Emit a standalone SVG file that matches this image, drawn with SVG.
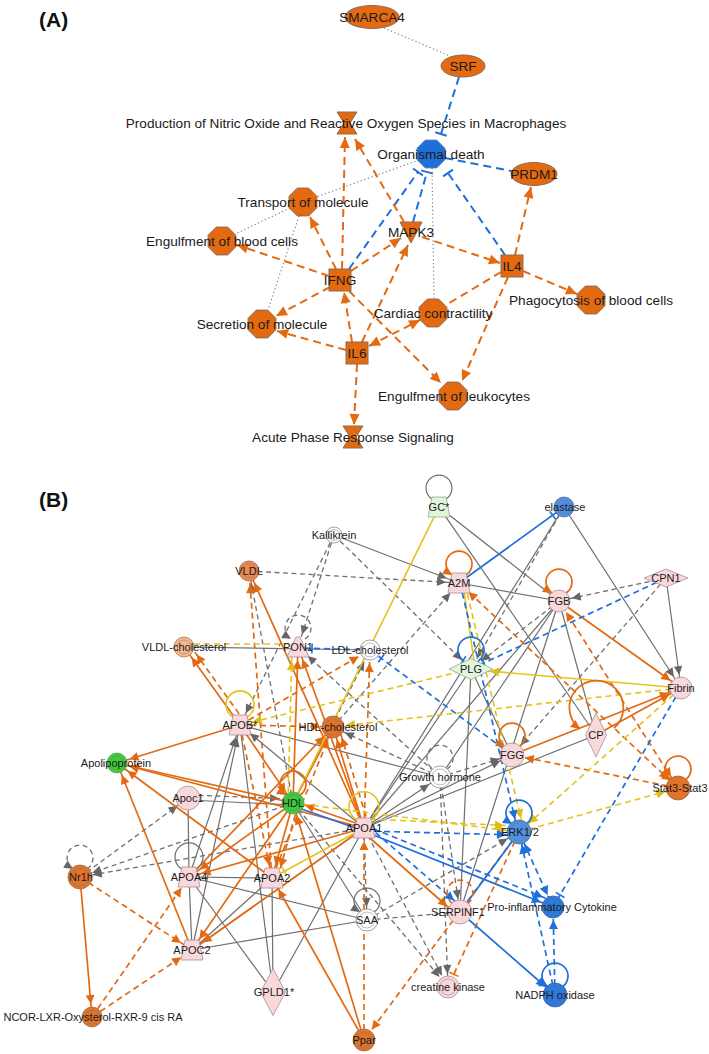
<svg xmlns="http://www.w3.org/2000/svg" width="709" height="1054" viewBox="0 0 709 1054">
<style>
.ta{font-family:"Liberation Sans",Arial,sans-serif;font-size:13.6px;fill:#1b1b1b;text-anchor:middle}
.tb{font-family:"Liberation Sans",Arial,sans-serif;font-size:11px;fill:#1b1b1b;text-anchor:middle}
.hd{font-family:"Liberation Sans",Arial,sans-serif;font-size:21px;font-weight:bold;fill:#111}
.Aod{stroke:#E36A12;stroke-width:2;stroke-dasharray:8 5;fill:none}
.Abd{stroke:#1F6FDB;stroke-width:2;stroke-dasharray:8 5;fill:none}
.Adot{stroke:#777;stroke-width:1.1;stroke-dasharray:1.2 2.6;fill:none}
.gs{stroke:#6f6f6f;stroke-width:1.2;fill:none}
.gd{stroke:#6f6f6f;stroke-width:1.3;stroke-dasharray:5 3.5;fill:none}
.os{stroke:#E36A12;stroke-width:1.7;fill:none}
.od{stroke:#E36A12;stroke-width:1.7;stroke-dasharray:6 4;fill:none}
.ys{stroke:#E5C21C;stroke-width:1.6;fill:none}
.yd{stroke:#E5C21C;stroke-width:1.6;stroke-dasharray:6 4;fill:none}
.bs{stroke:#1F6FDB;stroke-width:1.7;fill:none}
.bd{stroke:#1F6FDB;stroke-width:1.7;stroke-dasharray:6 4;fill:none}
.fo{fill:#E36A10;stroke:#8a6a55;stroke-width:1}
.fb{fill:#1F6FDB;stroke:#5d7fa8;stroke-width:1}
.pk{fill:#F9D8DB;stroke:#A98E90;stroke-width:.8}
.gr{fill:#E3F4DC;stroke:#8FAE88;stroke-width:.8}
.gb{fill:#3ECC3A;stroke:#5f9a5b;stroke-width:.8}
.or{fill:#E1742A;stroke:#9a6a4a;stroke-width:.8}
.vl{fill:#EC8B4F;stroke:#9a6a4a;stroke-width:.8}
.pe{fill:#F4B88C;stroke:#a07a5a;stroke-width:.8}
.bl{fill:#5090E2;stroke:#4a6f9c;stroke-width:.8}
.bk{fill:#2F78D8;stroke:#3d6598;stroke-width:.8}
.wh{fill:#fff;stroke:#888;stroke-width:.8}
.in{fill:none;stroke:#777;stroke-width:.6;opacity:.8}
</style>
<defs>
<polygon id="oct" points="-5.7,-13.9 5.7,-13.9 13.9,-5.7 13.9,5.7 5.7,13.9 -5.7,13.9 -13.9,5.7 -13.9,-5.7"/>
<polygon id="trap" points="-7,-10 7,-10 11,10 -11,10"/>
<marker id="Ao" viewBox="-12 -7 14 14" refX="0" refY="0" markerWidth="14" markerHeight="14" markerUnits="userSpaceOnUse" orient="auto-start-reverse"><path d="M0,0 L-11,-5 L-11,5 Z" fill="#E36A12"/></marker>
<marker id="Tb" viewBox="-3 -8 6 16" refX="0" refY="0" markerWidth="6" markerHeight="16" markerUnits="userSpaceOnUse" orient="auto"><path d="M0,-6 L0,6" stroke="#1F6FDB" stroke-width="2"/></marker>
<marker id="ag" viewBox="-26 -7 28 14" refX="0" refY="0" markerWidth="28" markerHeight="14" markerUnits="userSpaceOnUse" orient="auto-start-reverse"><path d="M-13,0 L-22,-4.2 L-22,4.2 Z" fill="#666"/></marker>
<marker id="ao" viewBox="-26 -7 28 14" refX="0" refY="0" markerWidth="28" markerHeight="14" markerUnits="userSpaceOnUse" orient="auto-start-reverse"><path d="M-13,0 L-22,-4.5 L-22,4.5 Z" fill="#E36A12"/></marker>
<marker id="ab" viewBox="-26 -7 28 14" refX="0" refY="0" markerWidth="28" markerHeight="14" markerUnits="userSpaceOnUse" orient="auto-start-reverse"><path d="M-13,0 L-22,-4.5 L-22,4.5 Z" fill="#1F6FDB"/></marker>
<marker id="ay" viewBox="-26 -7 28 14" refX="0" refY="0" markerWidth="28" markerHeight="14" markerUnits="userSpaceOnUse" orient="auto-start-reverse"><path d="M-13,0 L-22,-4.5 L-22,4.5 Z" fill="#E0BC18"/></marker>
<marker id="tb" viewBox="-26 -7 28 14" refX="0" refY="0" markerWidth="28" markerHeight="14" markerUnits="userSpaceOnUse" orient="auto"><path d="M-14,-5 L-14,5" stroke="#1F6FDB" stroke-width="1.6"/></marker>
<marker id="to" viewBox="-26 -7 28 14" refX="0" refY="0" markerWidth="28" markerHeight="14" markerUnits="userSpaceOnUse" orient="auto"><path d="M-14,-5 L-14,5" stroke="#E36A12" stroke-width="1.6"/></marker>
<marker id="ty" viewBox="-26 -7 28 14" refX="0" refY="0" markerWidth="28" markerHeight="14" markerUnits="userSpaceOnUse" orient="auto"><path d="M-14,-5 L-14,5" stroke="#E5C21C" stroke-width="1.6"/></marker>
<marker id="lo" viewBox="-11 -7 13 14" refX="0" refY="0" markerWidth="13" markerHeight="14" markerUnits="userSpaceOnUse" orient="auto"><path d="M0,0 L-9,-4.5 L-9,4.5 Z" fill="#E36A12"/></marker>
<marker id="lg" viewBox="-11 -7 13 14" refX="0" refY="0" markerWidth="13" markerHeight="14" markerUnits="userSpaceOnUse" orient="auto"><path d="M0,0 L-9,-4.2 L-9,4.2 Z" fill="#666"/></marker>
<marker id="lb" viewBox="-11 -7 13 14" refX="0" refY="0" markerWidth="13" markerHeight="14" markerUnits="userSpaceOnUse" orient="auto"><path d="M0,0 L-9,-4.5 L-9,4.5 Z" fill="#1F6FDB"/></marker>
<marker id="lbt" viewBox="-4 -7 8 14" refX="0" refY="0" markerWidth="8" markerHeight="14" markerUnits="userSpaceOnUse" orient="auto"><path d="M-1,-5 L-1,5" stroke="#1F6FDB" stroke-width="1.6"/></marker>
</defs>
<rect width="709" height="1054" fill="#fff"/>
<text class="hd" x="39" y="26.5">(A)</text>
<text class="hd" x="39" y="507">(B)</text>

<g id="connectors-a">
<path class="Adot" d="M384,28 L450,56"/>
<path class="Abd" d="M459,77 L441,134" marker-end="url(#Tb)"/>
<path class="Abd" d="M349,269 L418,172" marker-end="url(#Tb)"/>
<path class="Abd" d="M413,222 L427,172" marker-end="url(#Tb)"/>
<path class="Abd" d="M505,255 L448,173" marker-end="url(#Tb)"/>
<path class="Abd" d="M445,158 L511,171"/>
<path class="Adot" d="M419,160 L316,197"/>
<path class="Adot" d="M290,208 L235,234"/>
<path class="Adot" d="M299,216 L268,310"/>
<path class="Adot" d="M432,168 L434,299"/>
<path class="Aod" d="M342,269 L345,137" marker-end="url(#Ao)"/>
<path class="Aod" d="M404,222 L355,139" marker-end="url(#Ao)"/>
<path class="Aod" d="M336,269 L310,217" marker-end="url(#Ao)"/>
<path class="Aod" d="M329,276 L237,245" marker-end="url(#Ao)"/>
<path class="Aod" d="M351,271 L401,238" marker-end="url(#Ao)"/>
<path class="Aod" d="M330,287 L276,316" marker-end="url(#Ao)"/>
<path class="Aod" d="M352,342 L344,292" marker-end="url(#Ao)"/>
<path class="Aod" d="M362,342 L408,245" marker-end="url(#Ao)"/>
<path class="Aod" d="M346,350 L277,331" marker-end="url(#Ao)"/>
<path class="Aod" d="M369,346 L420,320" marker-start="url(#Ao)" marker-end="url(#Ao)"/>
<path class="Aod" d="M357,364 L354,425" marker-end="url(#Ao)"/>
<path class="Aod" d="M349,291 L441,383" marker-end="url(#Ao)"/>
<path class="Aod" d="M508,277 L462,381" marker-end="url(#Ao)"/>
<path class="Aod" d="M422,237 L500,263" marker-end="url(#Ao)"/>
<path class="Aod" d="M515,255 L531,187" marker-end="url(#Ao)"/>
<path class="Aod" d="M523,271 L577,294" marker-end="url(#Ao)"/>
<path class="Aod" d="M501,272 L446,305"/>
</g>

<g id="a-smarca4"><ellipse class="fo" cx="372" cy="17" rx="27" ry="11.5"/><text class="ta" x="372" y="21.8">SMARCA4</text></g>
<g id="a-srf"><ellipse class="fo" cx="463" cy="66" rx="22" ry="11"/><text class="ta" x="463" y="70.8">SRF</text></g>
<g id="a-production"><polygon class="fo" points="337,112 357,112 350,123 357,134 337,134 344,123"/><text class="ta" x="346" y="127.8">Production of Nitric Oxide and Reactive Oxygen Species in Macrophages</text></g>
<g id="a-organismal-death"><use href="#oct" x="431" y="154" class="fb"/><text class="ta" x="431" y="158.8">Organismal death</text></g>
<g id="a-prdm1"><ellipse class="fo" cx="534" cy="174" rx="23" ry="11.5"/><text class="ta" x="534" y="178.8">PRDM1</text></g>
<g id="a-transport"><use href="#oct" x="303" y="202" class="fo"/><text class="ta" x="303" y="206.8">Transport of molecule</text></g>
<g id="a-engulf-blood"><use href="#oct" x="222" y="241" class="fo"/><text class="ta" x="222" y="245.8">Engulfment of blood cells</text></g>
<g id="a-mapk3"><polygon class="fo" points="400,222 422,222 411,243"/><text class="ta" x="411" y="236.8">MAPK3</text></g>
<g id="a-ifng"><rect class="fo" x="329" y="269" width="22" height="22"/><text class="ta" x="340" y="284.8">IFNG</text></g>
<g id="a-il4"><rect class="fo" x="501" y="255" width="22" height="22"/><text class="ta" x="512" y="270.8">IL4</text></g>
<g id="a-phagocytosis"><use href="#oct" x="591" y="300" class="fo"/><text class="ta" x="591" y="304.8">Phagocytosis of blood cells</text></g>
<g id="a-cardiac"><use href="#oct" x="433" y="313" class="fo"/><text class="ta" x="433" y="317.8">Cardiac contractility</text></g>
<g id="a-secretion"><use href="#oct" x="262" y="324" class="fo"/><text class="ta" x="262" y="328.8">Secretion of molecule</text></g>
<g id="a-il6"><rect class="fo" x="346" y="342" width="22" height="22"/><text class="ta" x="357" y="357.8">IL6</text></g>
<g id="a-engulf-leuko"><use href="#oct" x="453" y="396" class="fo"/><text class="ta" x="454" y="400.8">Engulfment of leukocytes</text></g>
<g id="a-acute"><polygon class="fo" points="343,426 363,426 356,437 363,448 343,448 350,437"/><text class="ta" x="353" y="441.8">Acute Phase Response Signaling</text></g>

<g id="connectors-b">
<path class="gs" d="M334,535 L459,583" marker-end="url(#ag)"/>
<path class="gs" d="M439,507 L559,601"/>
<path class="gs" d="M439,507 L596,735"/>
<path class="gs" d="M564,507 L681,688" marker-end="url(#ag)"/>
<path class="gs" d="M459,583 L559,601"/>
<path class="gs" d="M666,578 L681,688" marker-end="url(#ag)"/>
<path class="gs" d="M559,601 L460,912"/>
<path class="gs" d="M559,601 L440,777"/>
<path class="gs" d="M559,601 L596,735"/>
<path class="gs" d="M184,647 L370,650"/>
<path class="gs" d="M596,735 L364,828"/>
<path class="gs" d="M364,828 L440,777" marker-end="url(#ag)"/>
<path class="gs" d="M364,828 L564,507"/>
<path class="gs" d="M364,828 L559,601"/>
<path class="gs" d="M364,828 L512,755" marker-end="url(#ag)"/>
<path class="gs" d="M471,669 L460,912"/>
<path class="gs" d="M471,669 L512,755"/>
<path class="gs" d="M471,669 L364,828"/>
<path class="gs" d="M367,920 L192,950"/>
<path class="gs" d="M189,877 L367,920"/>
<path class="gs" d="M293,803 L367,920"/>
<path class="gs" d="M188,798 L189,877"/>
<path class="gs" d="M189,877 L192,950"/>
<path class="gs" d="M189,877 L272,878"/>
<path class="gs" d="M189,877 L273,992"/>
<path class="gs" d="M272,878 L273,992"/>
<path class="gs" d="M272,878 L192,950"/>
<path class="gs" d="M192,950 L364,828"/>
<path class="gs" d="M273,992 L364,828"/>
<path class="gs" d="M192,950 L240,725" marker-end="url(#ag)"/>
<path class="gs" d="M189,877 L240,725" marker-end="url(#ag)"/>
<path class="gs" d="M240,725 L273,992"/>
<path class="gs" d="M364,828 L240,725" marker-end="url(#ag)"/>
<path class="gs" d="M240,725 L440,777"/>
<path class="gs" d="M188,800 L293,805"/>
<path class="gd" d="M334,535 L298,647" marker-end="url(#ag)"/>
<path class="gd" d="M334,535 L240,725" marker-end="url(#ag)"/>
<path class="gd" d="M334,535 L471,669" marker-end="url(#ag)"/>
<path class="gd" d="M249,571 L459,583" marker-end="url(#ag)"/>
<path class="gd" d="M333,727 L459,583" marker-end="url(#ag)"/>
<path class="gd" d="M564,507 L471,669" marker-end="url(#ag)"/>
<path class="gd" d="M666,578 L559,601" marker-end="url(#ag)"/>
<path class="gd" d="M666,578 L512,755" marker-end="url(#ag)"/>
<path class="gd" d="M559,601 L471,669" marker-end="url(#ag)"/>
<path class="gd" d="M440,777 L298,647" marker-end="url(#ag)"/>
<path class="gd" d="M440,777 L333,727" marker-end="url(#ag)"/>
<path class="gd" d="M293,803 L249,571" marker-end="url(#ag)"/>
<path class="gd" d="M440,777 L512,755" marker-end="url(#ag)"/>
<path class="gd" d="M364,828 L367,920" marker-end="url(#ag)"/>
<path class="gd" d="M367,920 L519,832" marker-end="url(#ag)"/>
<path class="gd" d="M367,920 L460,912"/>
<path class="gd" d="M364,828 L448,987" marker-end="url(#ag)"/>
<path class="gd" d="M440,777 L448,987" marker-end="url(#ag)"/>
<path class="gd" d="M293,803 L448,987" marker-end="url(#ag)"/>
<path class="gd" d="M440,777 L460,912" marker-end="url(#ag)"/>
<path class="gd" d="M190,795 L292,799" marker-end="url(#ag)"/>
<path class="gd" d="M80,877 L188,798" marker-end="url(#ag)"/>
<path class="gd" d="M293,803 L80,877" marker-end="url(#ag)"/>
<path class="gd" d="M364,828 L80,877" marker-end="url(#ag)"/>
<path class="gd" d="M293,803 L370,650" marker-end="url(#ag)"/>
<path class="os" d="M559,601 L681,688" marker-end="url(#ao)"/>
<path class="os" d="M596,735 L681,688" marker-end="url(#ao)"/>
<path class="os" d="M512,755 L681,688" marker-end="url(#ao)"/>
<path class="os" d="M240,725 L184,647" marker-end="url(#ao)"/>
<path class="os" d="M240,725 L117,763" marker-end="url(#ao)"/>
<path class="os" d="M293,803 L298,647" marker-end="url(#ao)"/>
<path class="os" d="M364,828 L298,647" marker-end="url(#ao)"/>
<path class="os" d="M293,803 L333,727" marker-end="url(#ao)"/>
<path class="os" d="M364,828 L333,727" marker-end="url(#ao)"/>
<path class="os" d="M189,877 L333,727" marker-end="url(#ao)"/>
<path class="os" d="M364,828 L249,571" marker-end="url(#ao)"/>
<path class="os" d="M364,826 L293,801" marker-end="url(#ao)"/>
<path class="os" d="M362,831 L457,915" marker-end="url(#ao)"/>
<path class="os" d="M364,1040 L272,878" marker-end="url(#ao)"/>
<path class="os" d="M364,1040 L293,803" marker-end="url(#ao)"/>
<path class="os" d="M293,803 L117,763" marker-end="url(#ao)"/>
<path class="os" d="M192,950 L117,763" marker-end="url(#ao)"/>
<path class="os" d="M272,878 L117,763" marker-end="url(#ao)"/>
<path class="os" d="M364,828 L117,763" marker-end="url(#ao)"/>
<path class="os" d="M293,803 L189,877" marker-end="url(#ao)"/>
<path class="os" d="M293,803 L192,950" marker-end="url(#ao)"/>
<path class="os" d="M293,803 L272,878" marker-end="url(#ao)"/>
<path class="os" d="M364,828 L189,877" marker-end="url(#ao)"/>
<path class="os" d="M364,828 L192,950" marker-end="url(#ao)"/>
<path class="os" d="M80,877 L92,1017" marker-end="url(#ao)"/>
<path class="os" d="M240,725 L293,803" marker-end="url(#ao)"/>
<path class="od" d="M678,788 L459,583" marker-start="url(#ao)" marker-end="url(#ao)"/>
<path class="od" d="M678,788 L559,601" marker-start="url(#ao)" marker-end="url(#ao)"/>
<path class="od" d="M245,722 L189,644" marker-end="url(#ao)"/>
<path class="od" d="M240,725 L370,650" marker-end="url(#ao)"/>
<path class="od" d="M240,725 L333,727" marker-end="url(#ao)"/>
<path class="od" d="M369,826 L338,725" marker-end="url(#ao)"/>
<path class="od" d="M272,878 L333,727" marker-end="url(#ao)"/>
<path class="od" d="M364,828 L370,650" marker-end="url(#ao)"/>
<path class="od" d="M272,878 L249,571" marker-end="url(#ao)"/>
<path class="od" d="M678,788 L512,755" marker-end="url(#ao)"/>
<path class="od" d="M519,832 L364,1040" marker-end="url(#ao)"/>
<path class="od" d="M519,832 L448,987" marker-end="url(#to)"/>
<path class="od" d="M364,1040 L364,828" marker-end="url(#ao)"/>
<path class="od" d="M298,805 L277,880" marker-end="url(#ao)"/>
<path class="od" d="M80,877 L192,950" marker-end="url(#ao)"/>
<path class="od" d="M92,1017 L189,877" marker-end="url(#ao)"/>
<path class="od" d="M92,1017 L192,950" marker-end="url(#ao)"/>
<path class="od" d="M240,725 L272,878" marker-end="url(#ao)"/>
<path class="ys" d="M439,507 L293,803"/>
<path class="ys" d="M681,688 L477,670" marker-end="url(#ay)"/>
<path class="ys" d="M364,828 L272,878" marker-end="url(#ty)"/>
<path class="ys" d="M463,584 L475,668"/>
<path class="yd" d="M184,644 L298,644"/>
<path class="yd" d="M288,802 L292,648" marker-end="url(#ay)"/>
<path class="yd" d="M471,669 L240,725" marker-end="url(#ay)"/>
<path class="yd" d="M681,688 L333,727" marker-end="url(#ay)"/>
<path class="yd" d="M465,584 L524,831" marker-end="url(#ay)"/>
<path class="yd" d="M681,688 L519,832" marker-end="url(#ay)"/>
<path class="yd" d="M519,832 L678,788" marker-end="url(#ay)"/>
<path class="yd" d="M293,803 L519,832" marker-end="url(#ay)"/>
<path class="yd" d="M370,819 L517,826" marker-end="url(#ay)"/>
<path class="bs" d="M459,583 L564,507" marker-end="url(#tb)"/>
<path class="bs" d="M364,831 L293,806"/>
<path class="bs" d="M366,832 L553,907" marker-end="url(#ab)"/>
<path class="bs" d="M460,912 L555,995" marker-end="url(#ab)"/>
<path class="bs" d="M460,912 L519,832"/>
<path class="bd" d="M460,583 L518,832" marker-end="url(#ab)"/>
<path class="bd" d="M666,578 L471,669" marker-end="url(#tb)"/>
<path class="bd" d="M512,755 L370,650" marker-end="url(#tb)"/>
<path class="bd" d="M370,650 L298,648" marker-end="url(#tb)"/>
<path class="bd" d="M681,688 L553,907" marker-end="url(#tb)"/>
<path class="bd" d="M364,831 L519,835" marker-end="url(#ab)"/>
<path class="bd" d="M364,825 L555,902" marker-end="url(#ab)"/>
<path class="bd" d="M368,826 L464,909" marker-end="url(#ab)"/>
<path class="bd" d="M519,832 L553,907" marker-start="url(#ab)" marker-end="url(#ab)"/>
<path class="bd" d="M555,995 L519,832" marker-end="url(#ab)"/>
<path class="bd" d="M555,995 L553,907" marker-end="url(#ab)"/>
<path class="gs" d="M446,499 A13,13 0 1 0 432,499"/>
<path class="os" d="M466,575 A13,13 0 1 0 452,575" marker-end="url(#lo)"/>
<path class="os" d="M566,593 A13,13 0 1 0 552,593" marker-end="url(#lo)"/>
<path class="bs" d="M478,661 A13,13 0 1 0 464,661" marker-end="url(#lbt)"/>
<path class="gd" d="M305,639 A13,13 0 1 0 291,639" marker-end="url(#lg)"/>
<path class="ys" d="M247,717 A14,14 0 1 0 233,717"/>
<path class="os" d="M300,795 A13,13 0 1 0 286,795" marker-end="url(#lo)"/>
<path class="ys" d="M371,820 A15,15 0 1 0 357,820"/>
<path class="os" d="M519,747 A13,13 0 1 0 505,747" marker-end="url(#lo)"/>
<path class="os" d="M614,728 A27,27 0 1 0 580,729" marker-end="url(#lo)"/>
<path class="os" d="M685,780 A13,13 0 1 0 671,780" marker-end="url(#lo)"/>
<path class="bs" d="M526,824 A13,13 0 1 0 512,824" marker-end="url(#lb)"/>
<path class="gd" d="M87,869 A13,13 0 1 0 73,869" marker-end="url(#lg)"/>
<path class="gs" d="M196,869 A14,14 0 1 0 182,869"/>
<path class="gs" d="M374,912 A13,13 0 1 0 360,912" marker-end="url(#lg)"/>
<path class="od" d="M467,904 A13,13 0 1 0 453,904"/>
<path class="bs" d="M562,987 A13,13 0 1 0 548,987" marker-end="url(#lb)"/>
<path class="gd" d="M447,769 A13,13 0 1 0 433,769"/>
</g>

<g id="b-kallikrein"><circle class="wh" cx="334" cy="535" r="8"/><circle class="in" cx="334" cy="535" r="5.5"/><text class="tb" x="334" y="538.9">Kallikrein</text></g>
<g id="b-gc"><use href="#trap" x="439" y="507" class="gr"/><text class="tb" x="439" y="510.9">GC*</text></g>
<g id="b-elastase"><circle class="bl" cx="564" cy="507" r="10"/><circle class="in" cx="564" cy="507" r="7"/><text class="tb" x="565" y="510.9">elastase</text></g>
<g id="b-vldl"><circle class="vl" cx="249" cy="571" r="10"/><circle class="in" cx="249" cy="571" r="7"/><text class="tb" x="249" y="574.9">VLDL</text></g>
<g id="b-a2m"><use href="#trap" x="459" y="583" class="pk"/><text class="tb" x="459" y="586.9">A2M</text></g>
<g id="b-fgb"><circle class="pk" cx="559" cy="601" r="11"/><text class="tb" x="559" y="604.9">FGB</text></g>
<g id="b-cpn1"><polygon class="pk" points="644,578 666,569 688,578 666,587"/><text class="tb" x="666" y="581.9">CPN1</text></g>
<g id="b-vldl-chol"><circle class="pe" cx="184" cy="647" r="10"/><circle class="in" cx="184" cy="647" r="7"/><text class="tb" x="184" y="650.9">VLDL-cholesterol</text></g>
<g id="b-pon1"><polygon class="pk" points="296,637 300,637 309,657 287,657"/><text class="tb" x="298" y="650.9">PON1</text></g>
<g id="b-ldl-chol"><circle class="wh" cx="370" cy="650" r="10"/><circle class="in" cx="370" cy="650" r="7"/><text class="tb" x="370" y="653.9">LDL-cholesterol</text></g>
<g id="b-plg"><polygon class="gr" points="449,669 471,658.5 493,669 471,679.5"/><text class="tb" x="471" y="672.9">PLG</text></g>
<g id="b-fibrin"><circle class="pk" cx="681" cy="688" r="11"/><text class="tb" x="681" y="691.9">Fibrin</text></g>
<g id="b-apob"><use href="#trap" x="240" y="725" class="pk"/><text class="tb" x="240" y="728.9">APOB*</text></g>
<g id="b-hdl-chol"><circle class="or" cx="333" cy="727" r="11"/><circle class="in" cx="333" cy="727" r="8"/><text class="tb" x="338" y="730.9">HDL-cholesterol</text></g>
<g id="b-cp"><polygon class="pk" points="585.5,735 596,713 606.5,735 596,757"/><text class="tb" x="596" y="738.9">CP</text></g>
<g id="b-fgg"><circle class="pk" cx="512" cy="755" r="12"/><text class="tb" x="512" y="758.9">FGG</text></g>
<g id="b-apolipoprotein"><circle class="gb" cx="117" cy="763" r="10"/><circle class="in" cx="117" cy="763" r="7"/><text class="tb" x="116" y="766.9">Apolipoprotein</text></g>
<g id="b-growth-hormone"><circle class="wh" cx="440" cy="777" r="11"/><circle class="in" cx="440" cy="777" r="8"/><text class="tb" x="440" y="780.9">Growth hormone</text></g>
<g id="b-stat3"><circle class="or" cx="678" cy="788" r="12"/><text class="tb" x="680" y="791.9">Stat3-Stat3</text></g>
<g id="b-apoc1"><circle class="pk" cx="188" cy="798" r="12"/><text class="tb" x="188" y="801.9">Apoc1</text></g>
<g id="b-hdl"><circle class="gb" cx="293" cy="803" r="11"/><circle class="in" cx="293" cy="803" r="8"/><text class="tb" x="293" y="806.9">HDL</text></g>
<g id="b-apoa1"><use href="#trap" x="364" y="828" class="pk"/><text class="tb" x="364" y="831.9">APOA1</text></g>
<g id="b-erk"><circle class="bl" cx="519" cy="832" r="12"/><circle class="in" cx="519" cy="832" r="9"/><text class="tb" x="520" y="835.9">ERK1/2</text></g>
<g id="b-nr1h"><circle class="or" cx="80" cy="877" r="12"/><circle class="in" cx="80" cy="877" r="9"/><text class="tb" x="81" y="880.9">Nr1h</text></g>
<g id="b-apoa4"><use href="#trap" x="189" y="877" class="pk"/><text class="tb" x="189" y="880.9">APOA4</text></g>
<g id="b-apoa2"><use href="#trap" x="272" y="878" class="pk"/><text class="tb" x="272" y="881.9">APOA2</text></g>
<g id="b-proinflam"><circle class="bk" cx="553" cy="907" r="11"/><text class="tb" x="552" y="910.9">Pro-inflammatory Cytokine</text></g>
<g id="b-saa"><circle class="wh" cx="367" cy="920" r="11"/><circle class="in" cx="367" cy="920" r="8"/><text class="tb" x="367" y="923.9">SAA</text></g>
<g id="b-serpinf1"><circle class="pk" cx="460" cy="912" r="12"/><text class="tb" x="458" y="915.9">SERPINF1</text></g>
<g id="b-apoc2"><use href="#trap" x="192" y="950" class="pk"/><text class="tb" x="192" y="953.9">APOC2</text></g>
<g id="b-creatine-kinase"><circle class="pk" cx="448" cy="987" r="11"/><circle class="in" cx="448" cy="987" r="8"/><text class="tb" x="448" y="990.9">creatine kinase</text></g>
<g id="b-nadph"><circle class="bk" cx="555" cy="995" r="12"/><text class="tb" x="555" y="998.9">NADPH oxidase</text></g>
<g id="b-gpld1"><polygon class="pk" points="260.5,992 273,968.5 285.5,992 273,1015.5"/><text class="tb" x="274" y="995.9">GPLD1*</text></g>
<g id="b-ncor"><circle class="or" cx="92" cy="1017" r="10"/><circle class="in" cx="92" cy="1017" r="7"/><text class="tb" x="93" y="1020.9">NCOR-LXR-Oxysterol-RXR-9 cis RA</text></g>
<g id="b-ppar"><circle class="or" cx="364" cy="1040" r="11"/><circle class="in" cx="364" cy="1040" r="8"/><text class="tb" x="364" y="1043.9">Ppar</text></g>
</svg>
